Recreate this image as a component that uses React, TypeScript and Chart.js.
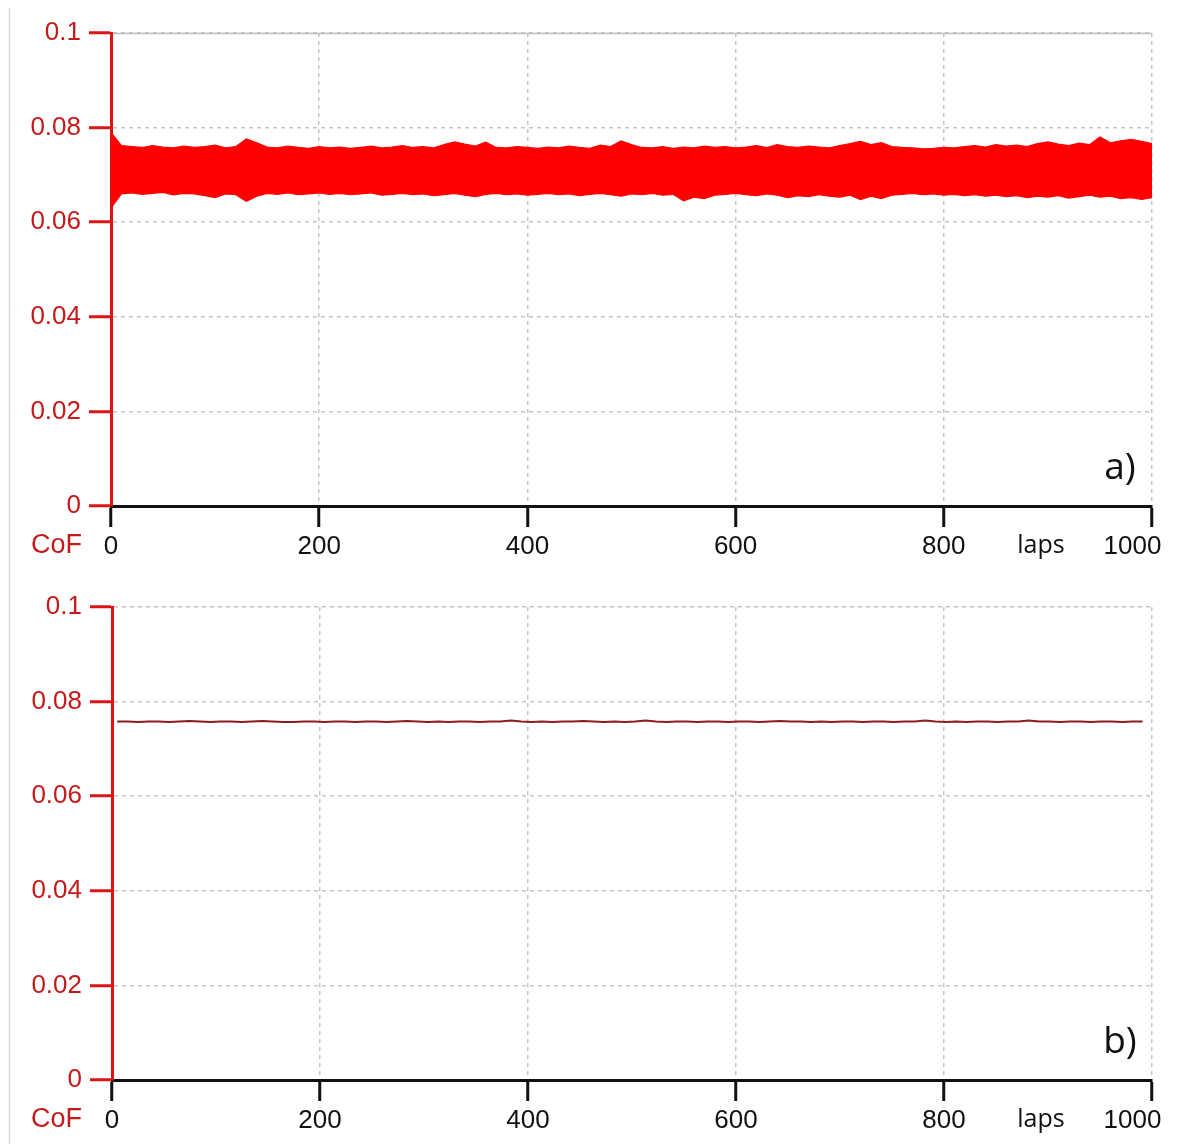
import React, { useEffect, useRef } from 'react';
import { Chart, registerables } from 'chart.js';

Chart.register(...registerables);

// ---------- data ----------
const lapsA: number[] = Array.from({ length: 101 }, (_, i) => i * 10);

// upper envelope of the CoF band (panel a), one value every 10 laps
const upperA: number[] = [
  0.0790, 0.0762, 0.0760, 0.0758, 0.0762, 0.0759, 0.0757, 0.0761, 0.0758, 0.0760,
  0.0763, 0.0757, 0.0760, 0.0776, 0.0768, 0.0759, 0.0757, 0.0761, 0.0758, 0.0756,
  0.0760, 0.0757, 0.0759, 0.0756, 0.0758, 0.0761, 0.0757, 0.0759, 0.0762, 0.0758,
  0.0760, 0.0757, 0.0764, 0.0770, 0.0765, 0.0761, 0.0769, 0.0758, 0.0757, 0.0760,
  0.0758, 0.0756, 0.0759, 0.0757, 0.0761, 0.0758, 0.0756, 0.0763, 0.0760, 0.0772,
  0.0764, 0.0758, 0.0757, 0.0760, 0.0756, 0.0759, 0.0757, 0.0761, 0.0758, 0.0760,
  0.0757, 0.0759, 0.0762, 0.0758, 0.0764, 0.0760, 0.0758, 0.0761, 0.0759, 0.0757,
  0.0762, 0.0766, 0.0771, 0.0764, 0.0768, 0.0760, 0.0758, 0.0757, 0.0755, 0.0756,
  0.0758, 0.0757, 0.0760, 0.0762, 0.0759, 0.0764, 0.0761, 0.0763, 0.0760, 0.0766,
  0.0770, 0.0765, 0.0762, 0.0767, 0.0764, 0.0780, 0.0768, 0.0772, 0.0775, 0.0771,
  0.0766,
];

// lower envelope of the CoF band (panel a)
const lowerA: number[] = [
  0.0630, 0.0660, 0.0662, 0.0659, 0.0661, 0.0663, 0.0658, 0.0661, 0.0660, 0.0656,
  0.0652, 0.0660, 0.0658, 0.0644, 0.0655, 0.0661, 0.0659, 0.0662, 0.0658, 0.0660,
  0.0662, 0.0659, 0.0661, 0.0658, 0.0660, 0.0662, 0.0657, 0.0659, 0.0661, 0.0658,
  0.0660, 0.0656, 0.0658, 0.0661, 0.0657, 0.0654, 0.0659, 0.0661, 0.0658, 0.0660,
  0.0657, 0.0659, 0.0661, 0.0658, 0.0660, 0.0656, 0.0659, 0.0661, 0.0658, 0.0655,
  0.0660, 0.0658, 0.0661, 0.0657, 0.0659, 0.0645, 0.0653, 0.0650, 0.0657, 0.0659,
  0.0661, 0.0658, 0.0656, 0.0660, 0.0657, 0.0652, 0.0656, 0.0654, 0.0658, 0.0655,
  0.0653, 0.0657, 0.0648, 0.0655, 0.0650, 0.0657, 0.0659, 0.0661, 0.0658, 0.0660,
  0.0657, 0.0659, 0.0656, 0.0658, 0.0655, 0.0657, 0.0654, 0.0656, 0.0652, 0.0655,
  0.0653, 0.0656, 0.0651, 0.0654, 0.0657, 0.0653, 0.0655, 0.0650, 0.0652, 0.0648,
  0.0652,
];

// laps of panel b samples (5 .. ~991)
const lapsB: number[] = Array.from({ length: 100 }, (_, i) => 5 + i * 9.96);

// CoF of panel b
const cofB: number[] = [
  0.0758, 0.0758, 0.0757, 0.0758, 0.0758, 0.0757, 0.0758, 0.0759, 0.0758, 0.0757,
  0.0758, 0.0758, 0.0757, 0.0758, 0.0759, 0.0758, 0.0757, 0.0757, 0.0758, 0.0758,
  0.0757, 0.0758, 0.0758, 0.0757, 0.0758, 0.0758, 0.0757, 0.0758, 0.0759, 0.0758,
  0.0757, 0.0758, 0.0757, 0.0758, 0.0758, 0.0757, 0.0758, 0.0758, 0.0760, 0.0758,
  0.0757, 0.0758, 0.0757, 0.0758, 0.0758, 0.0759, 0.0758, 0.0757, 0.0758, 0.0757,
  0.0758, 0.0760, 0.0758, 0.0757, 0.0758, 0.0758, 0.0757, 0.0758, 0.0758, 0.0757,
  0.0758, 0.0758, 0.0757, 0.0758, 0.0759, 0.0758, 0.0758, 0.0757, 0.0758, 0.0757,
  0.0758, 0.0758, 0.0757, 0.0758, 0.0758, 0.0757, 0.0758, 0.0758, 0.0760, 0.0758,
  0.0757, 0.0758, 0.0757, 0.0758, 0.0758, 0.0757, 0.0758, 0.0758, 0.0760, 0.0758,
  0.0758, 0.0757, 0.0758, 0.0758, 0.0757, 0.0758, 0.0758, 0.0757, 0.0758, 0.0758,
];

const xTicks: number[] = [0, 200, 400, 600, 800, 1000];
const xTickLabels: string[] = ['0', '200', '400', '600', '800', '1000\u2002\u2002\u2002'];
const yTicks: number[] = [0, 0.02, 0.04, 0.06, 0.08, 0.1];
const yTickLabels: string[] = ['0', '0.02', '0.04', '0.06', '0.08', '0.1'];

const yAxisLabel = 'CoF';
const xAxisLabel = 'laps';
const panelLabels = ['a)', 'b)'];

// ---------- styles ----------
const W = 1184;
const H = 572;
const RED_AXIS = '#dc1414';
const RED_TEXT = '#c41a1a';
const GRID = '#c4c4c4';
const TICK_FONT = { family: '"Liberation Sans", Arial, sans-serif', size: 26 };

function makeConfig(datasets: any[], panel: number, areaTop: number, areaBottom: number, areaLeft: number, solidTop: boolean) {
  const decor = {
    id: 'decor' + panel,
    afterDraw(chart: any) {
      const { ctx, chartArea } = chart;
      ctx.save();
      // faint frame line on the left
      ctx.strokeStyle = '#d6d6d6';
      ctx.lineWidth = 1.5;
      ctx.beginPath();
      ctx.moveTo(9.5, panel === 0 ? 8 : 0);
      ctx.lineTo(9.5, H);
      ctx.stroke();
      if (solidTop) {
        ctx.strokeStyle = '#bdbdbd';
        ctx.lineWidth = 1.5;
        ctx.beginPath();
        ctx.moveTo(chartArea.left + 2, chartArea.top + 0.5);
        ctx.lineTo(chartArea.right, chartArea.top + 0.5);
        ctx.stroke();
      }
      // CoF label
      ctx.fillStyle = RED_TEXT;
      ctx.font = '27px "Liberation Sans", Arial, sans-serif';
      ctx.textAlign = 'right';
      ctx.textBaseline = 'middle';
      ctx.fillText(yAxisLabel, 82, chartArea.bottom + 40);
      // laps label
      ctx.fillStyle = '#111';
      ctx.font = '25px "Open Sans", "Liberation Sans", sans-serif';
      ctx.textAlign = 'center';
      ctx.fillText(xAxisLabel, 1041, chartArea.bottom + 40);
      // panel label
      ctx.font = '37px "Open Sans", "Liberation Sans", sans-serif';
      ctx.fillText(panelLabels[panel], 1120, chartArea.bottom - 38);
      ctx.restore();
    },
  };

  return {
    type: 'line',
    data: { datasets },
    options: {
      animation: false,
      responsive: false,
      maintainAspectRatio: false,
      events: [],
      layout: { padding: { top: areaTop, right: W - 1152, bottom: 0, left: 0 } },
      plugins: { legend: { display: false }, tooltip: { enabled: false }, title: { display: false } },
      elements: { point: { radius: 0 }, line: { tension: 0 } },
      scales: {
        x: {
          type: 'linear',
          min: 0,
          max: 1000,
          afterFit: (s: any) => {
            s.height = H - areaBottom;
            s.paddingLeft = 0;
            s.paddingRight = 0;
          },
          afterBuildTicks: (s: any) => { s.ticks = xTicks.map((v) => ({ value: v })); },
          ticks: {
            color: '#111',
            font: TICK_FONT,
            padding: 4,
            maxRotation: 0,
            autoSkip: false,
            callback: (_v: any, i: number) => xTickLabels[i],
          },
          grid: {
            color: GRID,
            lineWidth: 1.5,
            drawTicks: true,
            tickLength: 21,
            tickWidth: 3,
            tickColor: '#111',
          },
          border: { display: true, color: '#111', width: 3, dash: [4, 4] },
        },
        y: {
          type: 'linear',
          min: 0,
          max: 0.1,
          afterFit: (s: any) => {
            s.width = areaLeft;
            s.paddingTop = 0;
            s.paddingBottom = 0;
          },
          afterBuildTicks: (s: any) => { s.ticks = yTicks.map((v) => ({ value: v })); },
          ticks: {
            color: RED_TEXT,
            font: TICK_FONT,
            padding: 8,
            autoSkip: false,
            callback: (_v: any, i: number) => yTickLabels[i],
          },
          grid: {
            color: GRID,
            lineWidth: 1.5,
            drawTicks: true,
            tickLength: 22,
            tickWidth: 3,
            tickColor: RED_AXIS,
          },
          border: { display: true, color: RED_AXIS, width: 3, dash: [4, 4] },
        },
      },
    },
    plugins: [decor],
  } as any;
}

export default function App() {
  const refA = useRef<HTMLCanvasElement | null>(null);
  const refB = useRef<HTMLCanvasElement | null>(null);

  useEffect(() => {
    const dsA = [
      {
        label: 'CoF max',
        data: lapsA.map((x, i) => ({ x, y: upperA[i] })),
        borderColor: '#ff0000',
        borderWidth: 1.2,
        fill: false,
        pointRadius: 0,
      },
      {
        label: 'CoF min',
        data: lapsA.map((x, i) => ({ x, y: lowerA[i] })),
        borderColor: '#ff0000',
        backgroundColor: '#ff0000',
        borderWidth: 1.2,
        fill: '-1',
        pointRadius: 0,
      },
    ];
    const dsB = [
      {
        label: 'CoF',
        data: lapsB.map((x, i) => ({ x, y: cofB[i] })),
        borderColor: '#8e1c1c',
        borderWidth: 2,
        fill: false,
        pointRadius: 0,
      },
    ];
    const a = new Chart(refA.current as HTMLCanvasElement, makeConfig(dsA, 0, 33, 506, 111, true));
    const b = new Chart(refB.current as HTMLCanvasElement, makeConfig(dsB, 1, 35, 508, 112, false));
    return () => {
      a.destroy();
      b.destroy();
    };
  }, []);

  return (
    <div style={{ position: 'absolute', left: 0, top: 0, width: W, height: H * 2, background: '#fff' }}>
      <canvas ref={refA} width={W} height={H} style={{ display: 'block', width: W, height: H }} />
      <canvas ref={refB} width={W} height={H} style={{ display: 'block', width: W, height: H }} />
    </div>
  );
}
